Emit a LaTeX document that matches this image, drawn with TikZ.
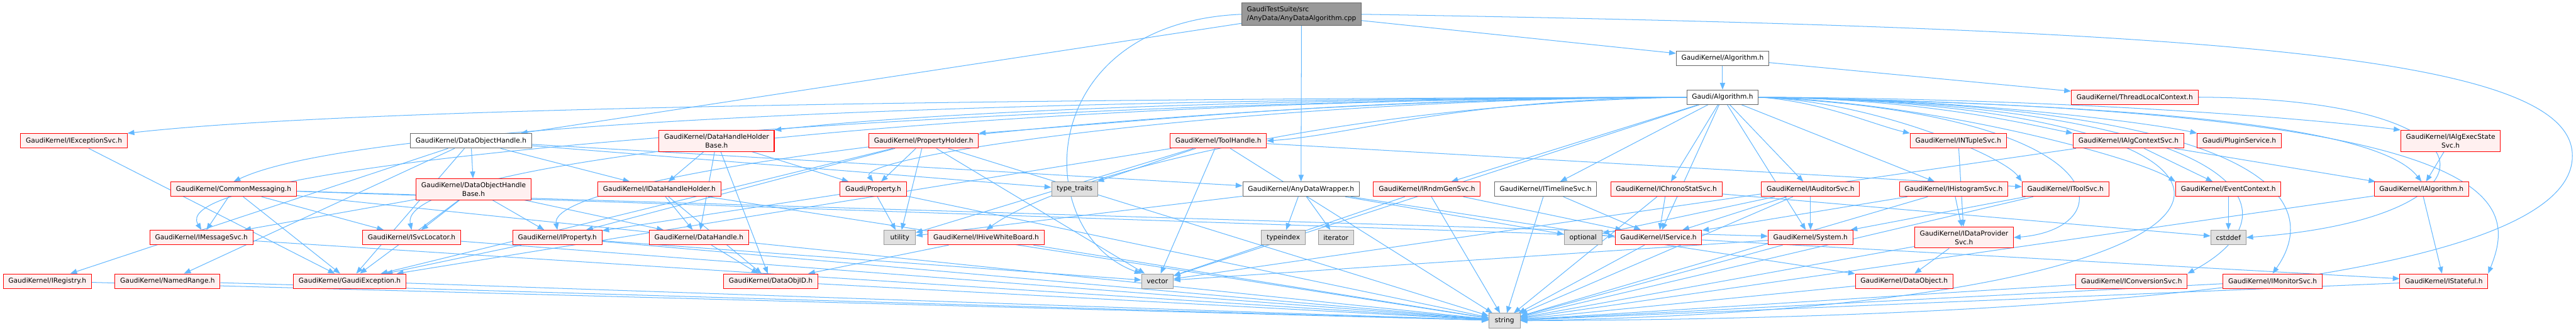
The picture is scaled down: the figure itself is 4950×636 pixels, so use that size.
\documentclass[tikz,border=0pt]{standalone}
\usepackage{fontspec}
\setmainfont{DejaVu Sans}
\usepackage{tikz}
\usetikzlibrary{arrows.meta,backgrounds}
\definecolor{edgeblue}{HTML}{63B8FF}
\definecolor{redfill}{HTML}{FFF0F0}
\definecolor{redline}{HTML}{FF0000}
\definecolor{greyfill}{HTML}{E0E0E0}
\definecolor{greyline}{HTML}{999999}
\definecolor{darkline}{HTML}{666666}
\definecolor{rootfill}{HTML}{999999}

\begin{document}
\begin{tikzpicture}[
  x=0.02cm, y=-0.02cm,
  every node/.style={font=\fontsize{7.33}{9.5}\selectfont, inner xsep=0.2cm, inner ysep=0.14cm, minimum height=0.56cm, line width=0.7pt},
  redbox/.style={draw=redline, fill=redfill, align=center},
  greybox/.style={draw=greyline, fill=greyfill, minimum width=1.2cm},
  whitebox/.style={draw=darkline, fill=white},
  rootbox/.style={draw=darkline, fill=rootfill, align=left},
  dep/.style={draw=edgeblue, line width=0.7pt, -{Triangle[length=0.26cm, width=0.2cm]}}
]
  \useasboundingbox (0,0) rectangle (4950,636);

  \node[rootbox] (root) at (2501,27.5) {GaudiTestSuite/src\\/AnyData/AnyDataAlgorithm.cpp};

  \node[whitebox] (alg)  at (3310,112) {GaudiKernel/Algorithm.h};
  \node[whitebox] (galg) at (3310,187) {Gaudi/Algorithm.h};
  \node[redbox]   (tlc)  at (4102,187) {GaudiKernel/ThreadLocalContext.h};

  \node[redbox]   (exc)  at (142,271)  {GaudiKernel/IExceptionSvc.h};
  \node[whitebox] (doh)  at (905,271)  {GaudiKernel/DataObjectHandle.h};
  \node[redbox]   (dhhb) at (1377,271) {GaudiKernel/DataHandleHolder\\Base.h};
  \node[redbox]   (ph)   at (1775,271) {GaudiKernel/PropertyHolder.h};
  \node[redbox]   (th)   at (2341,271) {GaudiKernel/ToolHandle.h};
  \node[redbox]   (ntup) at (3763,271) {GaudiKernel/INTupleSvc.h};
  \node[redbox]   (actx) at (4090,271) {GaudiKernel/IAlgContextSvc.h};
  \node[redbox]   (plug) at (4303,271) {Gaudi/PluginService.h};
  \node[redbox]   (aes)  at (4709,271) {GaudiKernel/IAlgExecState\\Svc.h};

  \node[redbox]   (cm)     at (449,364)  {GaudiKernel/CommonMessaging.h};
  \node[redbox]   (dohb)   at (910,364)  {GaudiKernel/DataObjectHandle\\Base.h};
  \node[redbox]   (idhh)   at (1267,364) {GaudiKernel/IDataHandleHolder.h};
  \node[redbox]   (prop)   at (1678,364) {Gaudi/Property.h};
  \node[greybox]  (tt)     at (2065,364) {type\_traits};
  \node[whitebox] (adw)    at (2500,364) {GaudiKernel/AnyDataWrapper.h};
  \node[redbox]   (rndm)   at (2742,364) {GaudiKernel/IRndmGenSvc.h};
  \node[whitebox] (tl)     at (2970,364) {GaudiKernel/ITimelineSvc.h};
  \node[redbox]   (chrono) at (3202,364) {GaudiKernel/IChronoStatSvc.h};
  \node[redbox]   (aud)    at (3479,364) {GaudiKernel/IAuditorSvc.h};
  \node[redbox]   (hist)   at (3754,364) {GaudiKernel/IHistogramSvc.h};
  \node[redbox]   (tsvc)   at (3969,364) {GaudiKernel/IToolSvc.h};
  \node[redbox]   (ectx)   at (4282,364) {GaudiKernel/EventContext.h};
  \node[redbox]   (ialg)   at (4653,364) {GaudiKernel/IAlgorithm.h};

  \node[redbox]  (msg)    at (387,457)  {GaudiKernel/IMessageSvc.h};
  \node[redbox]  (svcloc) at (791,457)  {GaudiKernel/ISvcLocator.h};
  \node[redbox]  (iprop)  at (1071,457) {GaudiKernel/IProperty.h};
  \node[redbox]  (dh)     at (1343,457) {GaudiKernel/DataHandle.h};
  \node[greybox] (util)   at (1729,457) {utility};
  \node[redbox]  (hive)   at (1895,457) {GaudiKernel/IHiveWhiteBoard.h};
  \node[greybox] (tidx)   at (2466,457) {typeindex};
  \node[greybox] (iter)   at (2567,457) {iterator};
  \node[greybox] (opt)    at (3042,457) {optional};
  \node[redbox]  (isvc)   at (3187,457) {GaudiKernel/IService.h};
  \node[redbox]  (sys)    at (3479,457) {GaudiKernel/System.h};
  \node[redbox]  (dps)    at (3774,457) {GaudiKernel/IDataProvider\\Svc.h};
  \node[greybox] (cstd)   at (4282,457) {cstddef};

  \node[redbox]  (reg)  at (91,541)   {GaudiKernel/IRegistry.h};
  \node[redbox]  (nr)   at (322,541)  {GaudiKernel/NamedRange.h};
  \node[redbox]  (gex)  at (672,541)  {GaudiKernel/GaudiException.h};
  \node[redbox]  (doid) at (1481,541) {GaudiKernel/DataObjID.h};
  \node[greybox] (vec)  at (2224,541) {vector};
  \node[redbox]  (dobj) at (3659,541) {GaudiKernel/DataObject.h};
  \node[redbox]  (conv) at (4096,541) {GaudiKernel/IConversionSvc.h};
  \node[redbox]  (mon)  at (4367,541) {GaudiKernel/IMonitorSvc.h};
  \node[redbox]  (stf)  at (4696,541) {GaudiKernel/IStateful.h};

  \node[greybox] (str) at (2891,617) {string};

  \begin{scope}[on background layer]
  \fill[white] (0,0) rectangle (4950,636);

  \draw[dep] (root) -- (alg);
  \draw[dep] (root) -- (doh);
  \draw[dep] (root) -- (adw);
  \draw[dep] (root.west) .. controls (1981,45) and (1981,450) .. (vec.north west);
  \draw[dep] (root.east) .. controls (4300,55) and (4943,110) .. (4943,300) .. controls (4943,590) and (3500,615) .. (str.east);

  \draw[dep] (alg) -- (galg);
  \draw[dep] (alg) -- (tlc);
  \draw[dep] (tlc.east) .. controls (4830,190) and (4820,420) .. (cstd.east);

  \draw[dep] (galg.west) .. controls (2000,190) and (700,205) .. (exc.north east);
  \draw[dep] (galg.west) .. controls (2400,190) and (1800,215) .. (dhhb.north east);
  \draw[dep] (galg.west) .. controls (2600,190) and (2300,225) .. (ph.north east);
  \draw[dep] (galg.west) .. controls (2800,190) and (2600,260) .. (th.east);
  \draw[dep] (galg.west) .. controls (2000,190) and (700,230) .. (cm.north);
  \draw[dep] (galg.west) .. controls (2000,190) and (300,300) .. (msg.north);
  \draw[dep] (galg.west) .. controls (2000,190) and (760,300) .. (svcloc.north);
  \draw[dep] (galg.west) .. controls (2200,190) and (1050,330) .. (iprop.north);
  \draw[dep] (galg.west) .. controls (2400,190) and (1640,300) .. (prop.north);
  \draw[dep] (galg.west) .. controls (2600,200) and (2050,330) .. (hive.north);
  \draw[dep] (galg) -- (vec);
  \draw[dep] (galg) -- (rndm);
  \draw[dep] (galg) -- (tl);
  \draw[dep] (galg) -- (chrono);
  \draw[dep] (galg) -- (isvc);
  \draw[dep] (galg) -- (aud);
  \draw[dep] (galg) -- (sys);
  \draw[dep] (galg) -- (hist);
  \draw[dep] (galg.east) .. controls (3600,195) and (3850,300) .. (tsvc.north west);
  \draw[dep] (galg.east) .. controls (4080,220) and (4080,440) .. (dps.east);
  \draw[dep] (galg.east) .. controls (3500,195) and (3600,240) .. (ntup.north west);
  \draw[dep] (galg.east) .. controls (3700,190) and (3900,240) .. (actx.north west);
  \draw[dep] (galg.east) .. controls (3800,190) and (4150,240) .. (plug.north west);
  \draw[dep] (galg.east) .. controls (4000,190) and (4450,230) .. (aes.north west);
  \draw[dep] (galg.east) .. controls (3700,195) and (4100,300) .. (ectx.north west);
  \draw[dep] (galg.east) .. controls (4000,200) and (4560,230) .. (ialg.north);
  \draw[dep] (galg.east) .. controls (4300,200) and (4440,400) .. (conv.north east);
  \draw[dep] (galg.east) .. controls (4350,200) and (4470,380) .. (mon.north);
  \draw[dep] (galg.east) .. controls (4820,210) and (4840,380) .. (stf.north east);
  \draw[dep] (galg.east) .. controls (4500,200) and (4520,590) .. (str.east);

  \draw[dep] (exc) -- (gex);
  \draw[dep] (doh) -- (dohb);
  \draw[dep] (doh) -- (reg);
  \draw[dep] (doh) -- (nr);
  \draw[dep] (doh) -- (gex);
  \draw[dep] (doh) -- (adw);
  \draw[dep] (doh) -- (tt);
  \draw[dep] (doh) -- (idhh);
  \draw[dep] (dohb) -- (msg);
  \draw[dep] (dohb) -- (iprop);
  \draw[dep] (dohb) -- (dh);
  \draw[dep] (dohb) -- (gex);
  \draw[dep] (dohb) -- (svcloc);
  \draw[dep] (cm) -- (msg);
  \draw[dep] (cm) -- (gex);
  \draw[dep] (cm) -- (svcloc);
  \draw[dep] (cm) -- (str);
  \draw[dep] (cm) -- (isvc);
  \draw[dep] (cm) -- (sys);
  \draw[dep] (dhhb) -- (idhh);
  \draw[dep] (dhhb) -- (dh);
  \draw[dep] (dhhb) -- (doid);
  \draw[dep] (dhhb) -- (prop);
  \draw[dep] (idhh) -- (dh);
  \draw[dep] (idhh) -- (doid);
  \draw[dep] (idhh) -- (str);
  \draw[dep] (ph) -- (prop);
  \draw[dep] (ph) -- (util);
  \draw[dep] (ph) -- (iprop);
  \draw[dep] (ph) -- (gex);
  \draw[dep] (ph) -- (vec);
  \draw[dep] (ph) -- (str);
  \draw[dep] (th) -- (tt);
  \draw[dep] (th) -- (util);
  \draw[dep] (th) -- (tsvc);
  \draw[dep] (th) -- (vec);
  \draw[dep] (th) -- (str);
  \draw[dep] (th) -- (gex);
  \draw[dep] (prop) -- (iprop);
  \draw[dep] (prop) -- (util);
  \draw[dep] (prop) -- (str);
  \draw[dep] (adw) -- (tidx);
  \draw[dep] (adw) -- (iter);
  \draw[dep] (adw) -- (dobj);
  \draw[dep] (adw) -- (opt);
  \draw[dep] (adw) -- (util);
  \draw[dep] (rndm) -- (isvc);
  \draw[dep] (rndm) -- (str);
  \draw[dep] (rndm) -- (vec);
  \draw[dep] (tl) -- (isvc);
  \draw[dep] (tl) -- (str);
  \draw[dep] (chrono) -- (isvc);
  \draw[dep] (chrono) -- (str);
  \draw[dep] (chrono) -- (cstd);
  \draw[dep] (aud) -- (sys);
  \draw[dep] (aud) -- (isvc);
  \draw[dep] (aud) -- (str);
  \draw[dep] (aud) -- (opt);
  \draw[dep] (hist) -- (dps);
  \draw[dep] (hist) -- (isvc);
  \draw[dep] (hist) -- (str);
  \draw[dep] (tsvc) -- (sys);
  \draw[dep] (tsvc) -- (str);
  \draw[dep] (ntup) -- (dps);
  \draw[dep] (actx) -- (ectx);
  \draw[dep] (actx) -- (ialg);
  \draw[dep] (actx) -- (vec);
  \draw[dep] (aes) -- (ialg);
  \draw[dep] (ectx) -- (cstd);
  \draw[dep] (ialg) -- (stf);
  \draw[dep] (ialg) -- (str);
  \draw[dep] (msg) -- (str);
  \draw[dep] (svcloc) -- (str);
  \draw[dep] (iprop) -- (str);
  \draw[dep] (iprop) -- (gex);
  \draw[dep] (iprop) -- (vec);
  \draw[dep] (dh) -- (doid);
  \draw[dep] (hive) -- (doid);
  \draw[dep] (hive) -- (str);
  \draw[dep] (isvc) -- (stf);
  \draw[dep] (isvc) -- (str);
  \draw[dep] (sys) -- (str);
  \draw[dep] (sys) -- (vec);
  \draw[dep] (dps) -- (dobj);
  \draw[dep] (dps) -- (str);
  \draw[dep] (reg) -- (str);
  \draw[dep] (nr) -- (str);
  \draw[dep] (gex) -- (str);
  \draw[dep] (doid) -- (str);
  \draw[dep] (dobj) -- (str);
  \draw[dep] (conv) -- (str);
  \draw[dep] (mon) -- (str);
  \draw[dep] (stf) -- (str);
  \end{scope}
\end{tikzpicture}
\end{document}
